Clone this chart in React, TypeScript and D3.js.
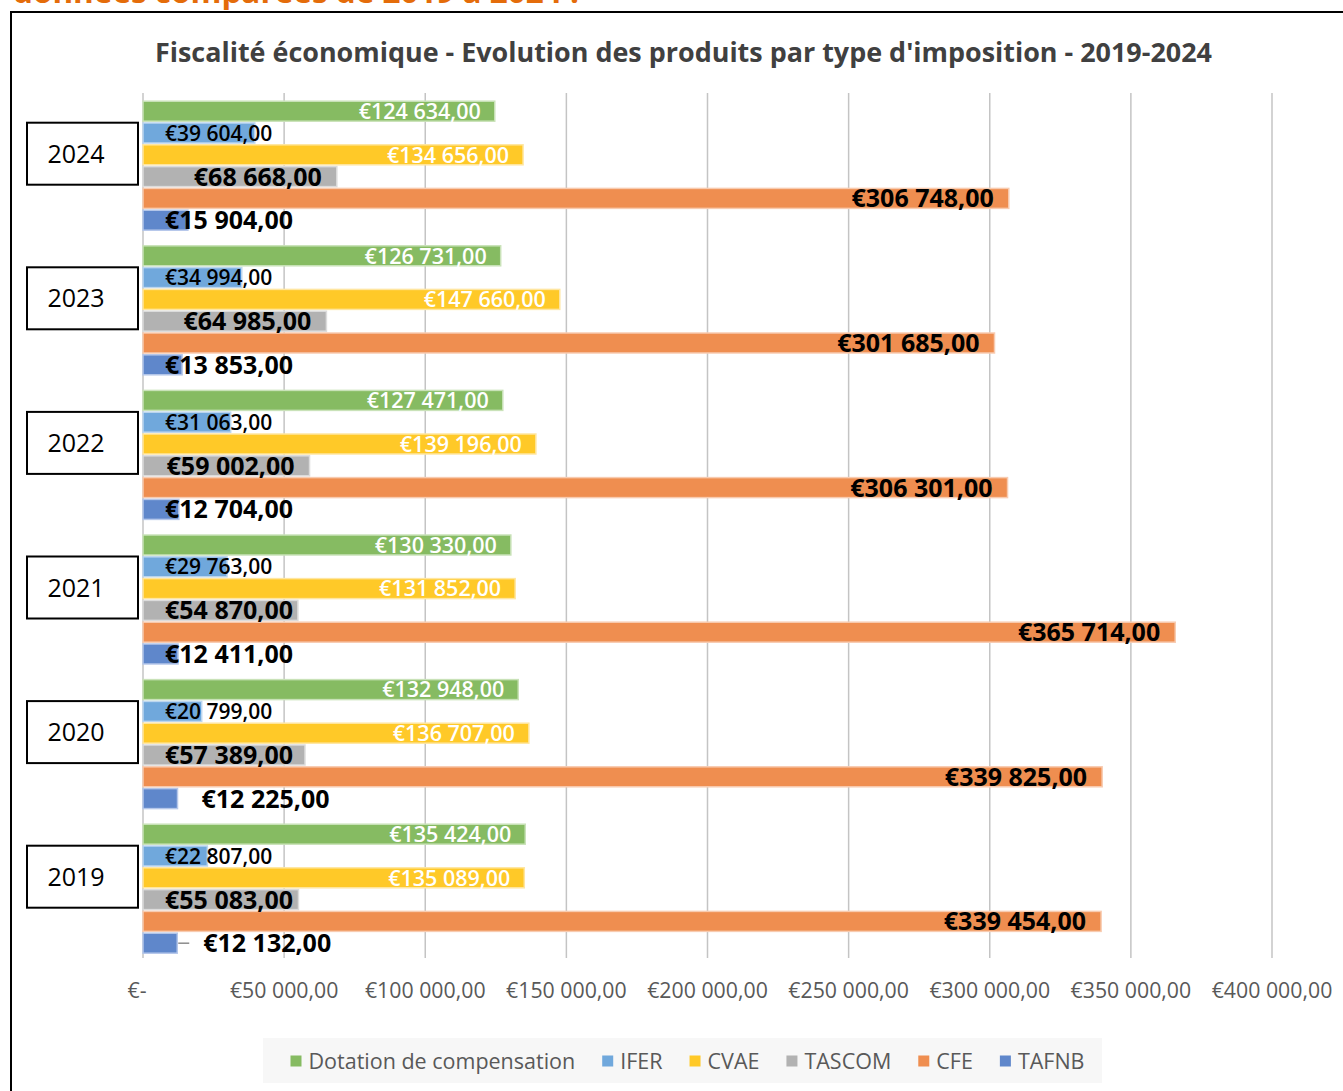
import React, { useEffect, useRef } from "react";
import * as d3 from "d3";

const years = ["2024", "2023", "2022", "2021", "2020", "2019"];
const seriesNames = ["Dotation de compensation", "IFER", "CVAE", "TASCOM", "CFE", "TAFNB"];
const seriesKeys = ["dotation", "ifer", "cvae", "tascom", "cfe", "tafnb"];
// values in order of years above (2024 -> 2019)
const dotation = [124634, 126731, 127471, 130330, 132948, 135424];
const ifer = [39604, 34994, 31063, 29763, 20799, 22807];
const cvae = [134656, 147660, 139196, 131852, 136707, 135089];
const tascom = [68668, 64985, 59002, 54870, 57389, 55083];
const cfe = [306748, 301685, 306301, 365714, 339825, 339454];
const tafnb = [15904, 13853, 12704, 12411, 12225, 12132];
const xTicks = [0, 50000, 100000, 150000, 200000, 250000, 300000, 350000, 400000];
const titleText = "Fiscalité économique - Evolution des produits par type d'imposition - 2019-2024";
const headerText = "données comparées de 2019 à 2024 :";

const colors: Record<string, string> = {
  dotation: "#86bb62",
  ifer: "#70a8dc",
  cvae: "#ffc928",
  tascom: "#b2b2b2",
  cfe: "#ef8e50",
  tafnb: "#5f87cb",
};
const strokes: Record<string, string> = {
  dotation: "#c9e2b8",
  ifer: "#bcd6ef",
  cvae: "#ffe6a0",
  tascom: "#dcdcdc",
  cfe: "#f8cbb0",
  tafnb: "#b5c7ea",
};

const FONT = "'Open Sans', 'Noto Sans', sans-serif";

export default function App() {
  const ref = useRef<SVGSVGElement>(null);

  useEffect(() => {
    const svg = d3.select(ref.current);
    svg.selectAll("*").remove();

    const valuesBy: Record<string, number[]> = { dotation, ifer, cvae, tascom, cfe, tafnb };

    const locale = d3.formatLocale({
      decimal: ",",
      thousands: " ",
      grouping: [3],
      currency: ["€", ""],
    });
    const fmt = locale.format("$,.2f");
    const tickFmt = (v: number) => (v === 0 ? "€-" : fmt(v));

    const x = d3.scaleLinear().domain([0, 400000]).range([143, 1272]);
    const y = d3.scaleBand<string>().domain(years).range([93.4, 961]).padding(0);
    const yi = d3
      .scaleBand<string>()
      .domain(seriesKeys)
      .range([0, y.bandwidth()])
      .paddingInner(0.083)
      .paddingOuter(0.358);

    // header (cut-off orange text, partly above the page like the reference)
    svg
      .append("text")
      .attr("x", 13)
      .attr("y", 3)
      .attr("font-family", FONT)
      .attr("font-weight", 700)
      .attr("font-size", 30)
      .attr("fill", "#e46c0a")
      .attr("textLength", 566)
      .attr("lengthAdjust", "spacingAndGlyphs")
      .text(headerText);

    // frame
    svg
      .append("path")
      .attr("d", "M11,1091 L11,12 L1343,12")
      .attr("fill", "none")
      .attr("stroke", "#000")
      .attr("stroke-width", 2);

    // title
    svg
      .append("text")
      .attr("x", 683.5)
      .attr("y", 62)
      .attr("text-anchor", "middle")
      .attr("font-family", FONT)
      .attr("font-weight", 700)
      .attr("font-size", 26)
      .attr("fill", "#404040")
      .attr("textLength", 1057)
      .attr("lengthAdjust", "spacingAndGlyphs")
      .text(titleText);

    // gridlines
    svg
      .append("g")
      .selectAll("line")
      .data(xTicks)
      .join("line")
      .attr("x1", (d) => x(d))
      .attr("x2", (d) => x(d))
      .attr("y1", 93)
      .attr("y2", 958)
      .attr("stroke", "#c4c4c4")
      .attr("stroke-width", 1.5);

    // tick labels
    svg
      .append("g")
      .selectAll("text")
      .data(xTicks)
      .join("text")
      .attr("x", (d) => (d === 0 ? x(d) - 6 : x(d)))
      .attr("y", 991)
      .attr("dy", "0.35em")
      .attr("text-anchor", "middle")
      .attr("font-family", FONT)
      .attr("font-size", 21.3)
      .attr("fill", "#595959")
      .text((d) => tickFmt(d));

    // bars
    const rows: { year: string; key: string; value: number; yi: number }[] = [];
    years.forEach((yr, i) => {
      seriesKeys.forEach((k) => {
        rows.push({ year: yr, key: k, value: valuesBy[k][i], yi: i });
      });
    });

    const barG = svg.append("g");
    barG
      .selectAll("rect")
      .data(rows)
      .join("rect")
      .attr("x", x(0))
      .attr("y", (d) => (y(d.year) as number) + (yi(d.key) as number))
      .attr("width", (d) => x(d.value) - x(0))
      .attr("height", yi.bandwidth())
      .attr("fill", (d) => colors[d.key])
      .attr("stroke", (d) => strokes[d.key])
      .attr("stroke-width", 1.5);

    // labels
    const labelG = svg.append("g");
    rows.forEach((d) => {
      const cy = (y(d.year) as number) + (yi(d.key) as number) + yi.bandwidth() / 2;
      const end = x(d.value);
      const t = labelG
        .append("text")
        .attr("y", cy)
        .attr("dy", "0.36em")
        .attr("font-family", FONT)
        .text(fmt(d.value));
      if (d.key === "dotation" || d.key === "cvae") {
        t.attr("x", end - 14)
          .attr("text-anchor", "end")
          .attr("font-size", 21.5)
          .attr("font-weight", 600)
          .attr("fill", "#ffffff");
      } else if (d.key === "ifer") {
        t.attr("x", 165)
          .attr("text-anchor", "start")
          .attr("font-size", 21)
          .attr("font-weight", 600)
          .attr("fill", "#000");
      } else if (d.key === "cfe") {
        t.attr("x", end - 15)
          .attr("text-anchor", "end")
          .attr("font-size", 25)
          .attr("font-weight", 700)
          .attr("fill", "#000");
      } else if (d.key === "tascom") {
        t.attr("text-anchor", "start")
          .attr("font-size", 25)
          .attr("font-weight", 700)
          .attr("fill", "#000");
        const w = (t.node() as SVGTextElement).getComputedTextLength();
        t.attr("x", Math.max(165, end - 15 - w));
      } else if (d.key === "tafnb") {
        t.attr("text-anchor", "start")
          .attr("font-size", 25)
          .attr("font-weight", 700)
          .attr("fill", "#000");
        if (d.year === "2020" || d.year === "2019") {
          t.attr("x", end + (d.year === "2019" ? 26 : 24));
          if (d.year === "2019") {
            labelG
              .append("line")
              .attr("x1", end + 1)
              .attr("x2", end + 12)
              .attr("y1", cy)
              .attr("y2", cy)
              .attr("stroke", "#8c8c8c")
              .attr("stroke-width", 1.5);
          }
        } else {
          t.attr("x", 165);
        }
      }
    });

    // year boxes
    const boxG = svg.append("g");
    years.forEach((yr) => {
      const cy = (y(yr) as number) + y.bandwidth() / 2 - 12;
      boxG
        .append("rect")
        .attr("x", 27)
        .attr("y", cy - 31)
        .attr("width", 111)
        .attr("height", 62)
        .attr("fill", "#fff")
        .attr("stroke", "#000")
        .attr("stroke-width", 2);
      boxG
        .append("text")
        .attr("x", 76)
        .attr("y", cy)
        .attr("dy", "0.36em")
        .attr("text-anchor", "middle")
        .attr("font-family", FONT)
        .attr("font-size", 25)
        .attr("fill", "#000")
        .text(yr);
    });

    // legend
    const legG = svg.append("g");
    legG
      .append("rect")
      .attr("x", 263)
      .attr("y", 1038)
      .attr("width", 839)
      .attr("height", 45)
      .attr("fill", "#f7f7f7");
    const items = legG.append("g");
    let lx = 0;
    seriesKeys.forEach((k, i) => {
      items
        .append("rect")
        .attr("x", lx)
        .attr("y", 1061 - 5.5)
        .attr("width", 11)
        .attr("height", 11)
        .attr("fill", colors[k]);
      const t = items
        .append("text")
        .attr("x", lx + 18)
        .attr("y", 1061)
        .attr("dy", "0.35em")
        .attr("font-family", FONT)
        .attr("font-size", 21.5)
        .attr("fill", "#595959")
        .text(seriesNames[i]);
      const w = (t.node() as SVGTextElement).getComputedTextLength();
      lx = lx + 18 + w + (i < seriesKeys.length - 1 ? 27 : 0);
    });
    items.attr("transform", `translate(${687.5 - lx / 2},0)`);
  }, []);

  return (
    <div style={{ position: "absolute", left: 0, top: 0 }}>
      <svg ref={ref} width={1343} height={1091} style={{ display: "block", background: "#fff" }} />
    </div>
  );
}
